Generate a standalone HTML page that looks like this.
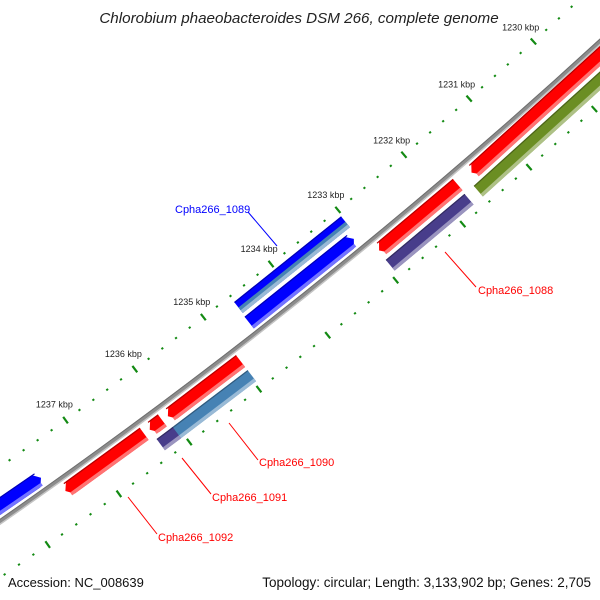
<!DOCTYPE html>
<html><head><meta charset="utf-8"><style>
html,body{margin:0;padding:0;background:#fff;}
svg{display:block;font-family:"Liberation Sans",sans-serif;}
</style></head><body>
<svg id="map" width="600" height="600" viewBox="0 0 600 600" xmlns="http://www.w3.org/2000/svg">
<rect width="600" height="600" fill="#fff"/>
<g id="ticks"></g>
<g id="backbone"></g>
<g id="features"></g>
<g font-size="11">
 <line x1="248" y1="212" x2="277" y2="246" stroke="#0000ff" stroke-width="1"/>
 <text x="175" y="213" fill="#0000ff">Cpha266_1089</text>
 <line x1="445" y1="252" x2="476" y2="287" stroke="#ff0000" stroke-width="1"/>
 <text x="478" y="294" fill="#ff0000">Cpha266_1088</text>
 <line x1="229" y1="423" x2="258" y2="460" stroke="#ff0000" stroke-width="1"/>
 <text x="259" y="466" fill="#ff0000">Cpha266_1090</text>
 <line x1="182" y1="458" x2="211" y2="494" stroke="#ff0000" stroke-width="1"/>
 <text x="212" y="501" fill="#ff0000">Cpha266_1091</text>
 <line x1="128" y1="497" x2="157" y2="534" stroke="#ff0000" stroke-width="1"/>
 <text x="158" y="541" fill="#ff0000">Cpha266_1092</text>
</g>
<text x="299" y="23" text-anchor="middle" font-size="15.2" font-style="italic" fill="#222">Chlorobium phaeobacteroides DSM 266, complete genome</text>
<text x="8" y="587" font-size="13" fill="#111">Accession: NC_008639</text>
<text x="591" y="587" text-anchor="end" font-size="13.5" fill="#111">Topology: circular; Length: 3,133,902 bp; Genes: 2,705</text>
</svg>
<script>
const featStart = [1228.0, 1228.0, 1231.75, 1231.76, 1233.07, 1233.02, 1233.02, 1234.97, 1234.97, 1236.10, 1236.05, 1236.36, 1237.62];
const featEnd   = [1231.54, 1231.62, 1232.93, 1232.94, 1234.62, 1234.61, 1234.61, 1236.02, 1236.07, 1236.28, 1236.28, 1237.48, 1239.5];
const featTrack = ['fwd1','fwd2','fwd1','fwd2','rev1','rev2','rev2low','fwd1','fwd2','fwd1','fwd2','fwd1','rev1'];
const featColor = ['#ff0000','#6b8e23','#ff0000','#483d8b','#0000ff','#0000ff','#4682b4','#ff0000','#4682b4','#ff0000','#483d8b','#ff0000','#0000ff'];
const tickMin = 1228, tickMax = 1239.4;
const labelMax = 1237;

const NS='http://www.w3.org/2000/svg';
const CX=-3227, CY=-4127, R=5659;
const RIN=5614, ROUT=5705, RLAB=5595;
const tracks={fwd1:[5664,5679],fwd2:[5683,5697],rev1:[5639,5654],rev2:[5621,5635],rev2low:[5628,5635]};
function ang(k){return (50.58+0.878*(k-1233))*Math.PI/180;}
function pt(k,r){const a=ang(k);return [CX+r*Math.cos(a),CY+r*Math.sin(a)];}
function P(arr){return arr.map(p=>p[0].toFixed(2)+','+p[1].toFixed(2)).join(' ');}
function shade(hex,f){const n=parseInt(hex.slice(1),16);let r=n>>16,g=(n>>8)&255,b=n&255;
 if(f>0){r+= (255-r)*f;g+=(255-g)*f;b+=(255-b)*f;}else{r*=1+f;g*=1+f;b*=1+f;}
 return 'rgb('+Math.round(r)+','+Math.round(g)+','+Math.round(b)+')';}

const tg=document.getElementById('ticks');
for(let i=Math.round(tickMin*5);i<=Math.round(tickMax*5);i++){
 const k=i/5, major=(i%5===0);
 [RIN,ROUT].forEach(rr=>{
  const l=major?4:1;
  const a=pt(k,rr-l), b=pt(k,rr+l);
  const ln=document.createElementNS(NS,'line');
  ln.setAttribute('x1',a[0]);ln.setAttribute('y1',a[1]);ln.setAttribute('x2',b[0]);ln.setAttribute('y2',b[1]);
  ln.setAttribute('stroke','#138a13');ln.setAttribute('stroke-width',2.2);
  
  
  tg.appendChild(ln);
 });
 if(major && k<=labelMax){
  const p=pt(k,RLAB);
  const t=document.createElementNS(NS,'text');
  t.setAttribute('x',p[0]);t.setAttribute('y',p[1]+3);t.setAttribute('text-anchor','middle');
  t.setAttribute('font-size','9');t.setAttribute('fill','#222');
  t.textContent=Math.round(k)+' kbp';
  
  
  tg.appendChild(t);
 }
}
const bg=document.getElementById('backbone');
function arcPath(r,k1,k2){const a=pt(k1,r),b=pt(k2,r);return 'M'+a[0]+','+a[1]+' A'+r+','+r+' 0 0 1 '+b[0]+','+b[1];}
[[R,5,'#8c8c8c'],[R+2,1.5,'#c4c4c4'],[R-2,1,'#6e6e6e']].forEach(s=>{
 const p=document.createElementNS(NS,'path');
 p.setAttribute('d',arcPath(s[0],1227,1240));p.setAttribute('stroke',s[2]);p.setAttribute('stroke-width',s[1]);p.setAttribute('fill','none');
 
 
 bg.appendChild(p);
});
const fg=document.getElementById('features');
const H=0.07;
for(let i=0;i<featStart.length;i++){
 const [r1,r2]=tracks[featTrack[i]];
 const a=featStart[i], b=featEnd[i], c=featColor[i], tr=featTrack[i];
 const rm=(r1+r2)/2;
 let pts;
 if(tr==='fwd1') pts=[pt(a,r1),pt(b-H,r1),pt(b,rm),pt(b-H,r2),pt(a,r2)];
 else if(tr==='rev1') pts=[pt(a+H,r1),pt(b,r1),pt(b,r2),pt(a+H,r2),pt(a,rm)];
 else pts=[pt(a,r1),pt(b,r1),pt(b,r2),pt(a,r2)];
 const g=document.createElementNS(NS,'g');
 
 
 const poly=document.createElementNS(NS,'polygon');
 poly.setAttribute('points',P(pts));poly.setAttribute('fill',c);
 
 
 g.appendChild(poly);
 if(tr!=='rev2'){
  const s1=r2-3.5, e1=(tr==='fwd1')?b-H*0.5:b, s0=(tr==='rev1')?a+H*0.5:a;
  const hl=document.createElementNS(NS,'polygon');
  hl.setAttribute('points',P([pt(s0,s1),pt(e1,s1),pt(e1,r2),pt(s0,r2)]));
  hl.setAttribute('fill',shade(c,0.45));
  
  
  g.appendChild(hl);
 }
 if(tr!=='rev2low'){
  const dk=document.createElementNS(NS,'polygon');
  const e1=(tr==='fwd1')?b-H*0.5:b, s0=(tr==='rev1')?a+H*0.5:a;
  dk.setAttribute('points',P([pt(s0,r1),pt(e1,r1),pt(e1,r1+1.2),pt(s0,r1+1.2)]));
  dk.setAttribute('fill',shade(c,-0.3));
  
  
  g.appendChild(dk);
 }
 fg.appendChild(g);
}
</script>
</body></html>
